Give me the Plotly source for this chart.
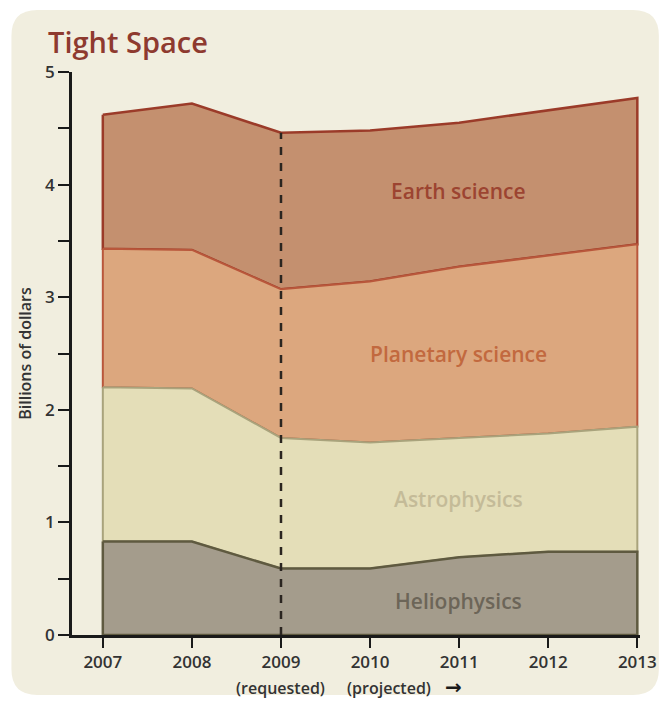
import numpy as np
import plotly.graph_objects as go

# NASA science budget by division, billions of dollars
years = [2007, 2008, 2009, 2010, 2011, 2012, 2013]
heliophysics = [0.83, 0.83, 0.59, 0.59, 0.69, 0.74, 0.74]
astrophysics = [1.37, 1.36, 1.16, 1.12, 1.06, 1.05, 1.11]
planetary = [1.23, 1.23, 1.32, 1.43, 1.52, 1.58, 1.62]
earth = [1.19, 1.30, 1.39, 1.34, 1.28, 1.29, 1.30]
year_labels = [str(y) for y in years]

W, H = 669, 702
L, R, T, B = 72, 25, 72, 67
pw, ph = W - L - R, H - T - B


def px(x):
    return (x - L) / pw


def py(y):
    return 1 - (y - T) / ph


bands = [
    ("Earth science", earth, "#c4906f", "#9b3b29", 2.5),
    ("Planetary science", planetary, "#dca77e", "#b9573b", 2),
    ("Astrophysics", astrophysics, "#e4deb8", "#a9a37c", 2),
    ("Heliophysics", heliophysics, "#a49c8c", "#5f5a40", 2.5),
]

# cumulative stack from the bottom up
order = [heliophysics, astrophysics, planetary, earth]
cum = np.cumsum(np.array(order), axis=0)
lows = {id(s): (cum[i] - np.array(s)) for i, s in enumerate(order)}
highs = {id(s): cum[i] for i, s in enumerate(order)}

fig = go.Figure()
# top band first so each lower band's outline sits on the shared boundary
for name, series, fill, line, lw in bands:
    lo = lows[id(series)]
    hi = highs[id(series)]
    xs = years + years[::-1] + [years[0]]
    ys = list(hi) + list(lo[::-1]) + [hi[0]]
    fig.add_trace(go.Scatter(
        x=xs, y=ys, mode="lines", fill="toself", fillcolor=fill,
        line=dict(color=line, width=lw), name=name, hoverinfo="skip",
        showlegend=False,
    ))

total = cum[-1]
i09 = years.index(2009)
fig.add_shape(type="line", xref="x", yref="y", x0=2009, x1=2009, y0=0,
              y1=total[i09], line=dict(color="#2a2520", width=2.5, dash="8px,8px"))

# rounded cream panel behind everything
x0p, x1p, y0p, y1p, r = 11, 663, 10, 695, 26
path = (f"M {px(x0p+r)} {py(y0p)} L {px(x1p-r)} {py(y0p)} "
        f"Q {px(x1p)} {py(y0p)} {px(x1p)} {py(y0p+r)} "
        f"L {px(x1p)} {py(y1p-r)} Q {px(x1p)} {py(y1p)} {px(x1p-r)} {py(y1p)} "
        f"L {px(x0p+r)} {py(y1p)} Q {px(x0p)} {py(y1p)} {px(x0p)} {py(y1p-r)} "
        f"L {px(x0p)} {py(y0p+r)} Q {px(x0p)} {py(y0p)} {px(x0p+r)} {py(y0p)} Z")
fig.add_shape(type="path", xref="paper", yref="paper", path=path,
              fillcolor="#f1eedf", line=dict(width=0), layer="below")

font = "Open Sans"
ink = "#333333"
ann = [
    dict(text="Tight Space", x=px(46), y=py(42), xanchor="left", yanchor="middle",
         font=dict(size=29, color="#8e3a2f", family=font, weight=600)),
    dict(text="Earth science", x=px(461), y=py(191), xanchor="center", yanchor="middle",
         font=dict(size=21, color="#9c4431", family=font, weight=600)),
    dict(text="Planetary science", x=px(461), y=py(354), xanchor="center", yanchor="middle",
         font=dict(size=21, color="#c2693f", family=font, weight=600)),
    dict(text="Astrophysics", x=px(461), y=py(499), xanchor="center", yanchor="middle",
         font=dict(size=21, color="#c4bb98", family=font, weight=600)),
    dict(text="Heliophysics", x=px(461), y=py(601), xanchor="center", yanchor="middle",
         font=dict(size=21, color="#6c6558", family=font, weight=600)),
    dict(text="(requested)", x=px(282), y=py(688), xanchor="center", yanchor="middle",
         font=dict(size=16, color=ink, family=font, weight=600)),
    dict(text="(projected)", x=px(347), y=py(688), xanchor="left", yanchor="middle",
         font=dict(size=16, color=ink, family=font, weight=600)),
    dict(text="<b>\u2192</b>", x=px(446), y=py(687), xanchor="left", yanchor="middle",
         font=dict(size=20, color="#1a1a1a", family="DejaVu Sans")),
]
for a in ann:
    a.update(xref="paper", yref="paper", showarrow=False)
fig.update_layout(annotations=ann)

yt = [v / 2 for v in range(0, 11)]
fig.update_layout(
    width=W, height=H, margin=dict(l=L, r=R, t=T, b=B, pad=0),
    paper_bgcolor="white", plot_bgcolor="rgba(0,0,0,0)",
    font=dict(family=font, color=ink),
    xaxis=dict(range=[2006.654, 2013.03], tickvals=years, ticktext=year_labels,
               ticks="outside", ticklen=10, tickwidth=2, tickcolor="#1a1a1a",
               showline=True, linecolor="#1a1a1a", linewidth=2.5, showgrid=False,
               zeroline=False, tickfont=dict(size=17, color=ink, weight=600)),
    yaxis=dict(range=[0, 5], tickvals=yt,
               ticktext=[str(int(v)) if v == int(v) else "" for v in yt],
               ticks="outside", ticklen=11, tickwidth=2, tickcolor="#1a1a1a",
               showline=True, linecolor="#1a1a1a", linewidth=2.5, showgrid=False,
               zeroline=False, tickfont=dict(size=17, color=ink, weight=600),
               title=dict(text="Billions of dollars", standoff=10,
                          font=dict(size=16, color=ink, family=font, weight=600))),
)

fig.write_html("out.html")
